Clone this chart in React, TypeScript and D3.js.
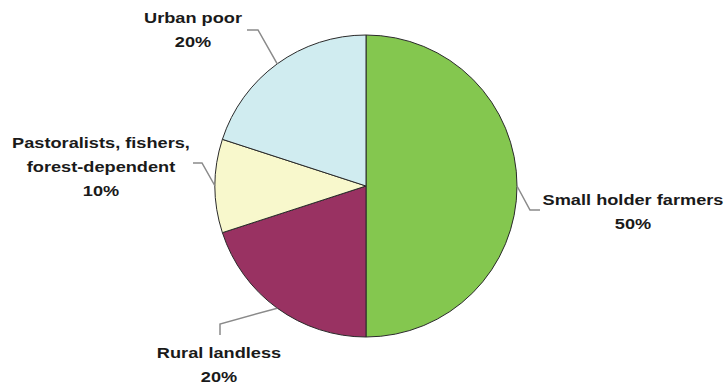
import React from "react";
import * as d3 from "d3";

const categories = ["Small holder farmers", "Rural landless", "Pastoralists, fishers, forest-dependent", "Urban poor"];
const values = [50, 20, 10, 20];
const labelLines = [
  ["Small holder farmers", "50%"],
  ["Rural landless", "20%"],
  ["Pastoralists, fishers,", "forest-dependent", "10%"],
  ["Urban poor", "20%"],
];
const colors = ["#84c74f", "#993262", "#f8f8cc", "#d0ecf0"];

// layout: elbow/end points of leader lines and label anchors (x, first baseline)
const leaders = [
  { elbow: [530, 210], end: [540, 210], text: [633, 205] },
  { elbow: [220, 324], end: [220, 335], text: [219, 358] },
  { elbow: [202, 163], end: [193, 163], text: [101, 148] },
  { elbow: [258, 30], end: [247, 30], text: [193, 23] },
];

export default function App() {
  const W = 724, H = 387;
  const cx = 366, cy = 186, R = 151;
  const pie = d3.pie<number>().sort(null).value((d) => d)(values);
  const arc = d3.arc<d3.PieArcDatum<number>>().innerRadius(0).outerRadius(R);
  return (
    <svg width={W} height={H} style={{ position: "absolute", left: 0, top: 0, background: "#fff" }}>
      <g transform={`translate(${cx},${cy})`}>
        {pie.map((p, i) => (
          <path key={categories[i]} d={arc(p) || ""} fill={colors[i]} stroke="#2a2a2a" strokeWidth={1} />
        ))}
      </g>
      {pie.map((p, i) => {
        const a = (p.startAngle + p.endAngle) / 2;
        const sx = cx + R * Math.sin(a);
        const sy = cy - R * Math.cos(a);
        const L = leaders[i];
        return (
          <polyline
            key={"l" + i}
            points={`${sx},${sy} ${L.elbow[0]},${L.elbow[1]} ${L.end[0]},${L.end[1]}`}
            fill="none"
            stroke="#8a8a8a"
            strokeWidth={1.5}
          />
        );
      })}
      {labelLines.map((lines, i) => (
        <g key={"t" + i} transform={`translate(${leaders[i].text[0]},${leaders[i].text[1]}) scale(1.3,1)`}>
          <text
            x={0}
            y={0}
            textAnchor="middle"
            fontFamily="Liberation Sans, Arial, sans-serif"
            fontWeight="bold"
            fontSize={14}
            fill="#1a1a1a"
          >
            {lines.map((s, j) => (
              <tspan key={j} x={0} dy={j === 0 ? 0 : 24}>
                {s}
              </tspan>
            ))}
          </text>
        </g>
      ))}
    </svg>
  );
}
